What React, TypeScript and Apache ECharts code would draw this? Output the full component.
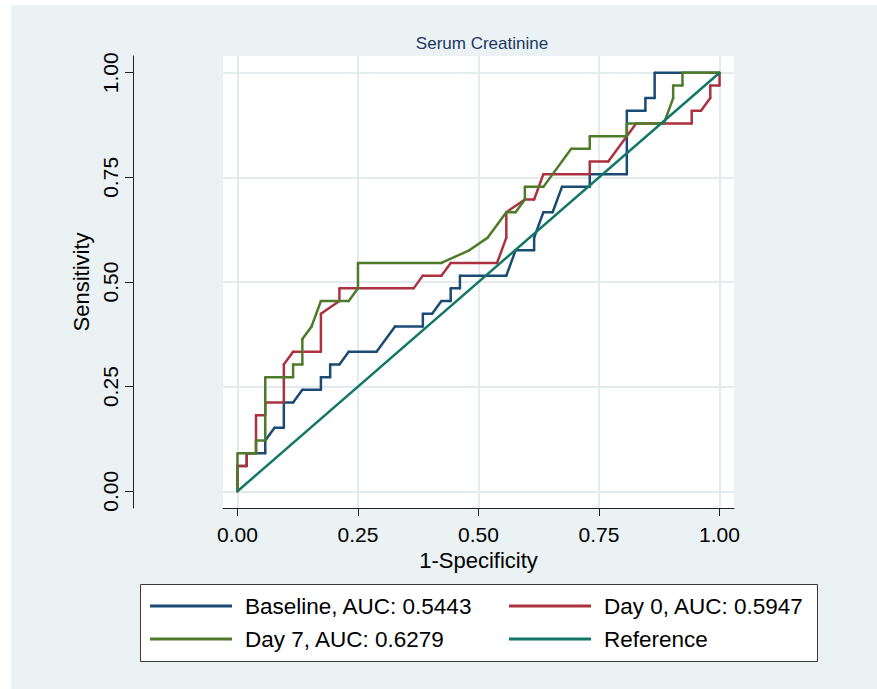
import React, { useEffect, useRef } from "react";
import * as echarts from "echarts";

const FONT = '"Liberation Sans", Arial, Helvetica, sans-serif';

const titleText = "Serum Creatinine";
const xAxisTitle = "1-Specificity";
const yAxisTitle = "Sensitivity";
const tickValues = [0, 0.25, 0.5, 0.75, 1];

const seriesNames = [
  "Baseline, AUC: 0.5443",
  "Day 0, AUC: 0.5947",
  "Day 7, AUC: 0.6279",
  "Reference",
];
const seriesColors = ["#1b4a74", "#ad313e", "#4d7b29", "#127769"];

const baselineFpr = [
  0, 0, 0.0192, 0.0192, 0.0577, 0.0577, 0.0769, 0.0962, 0.0962, 0.1154, 0.1346,
  0.1731, 0.1731, 0.1923, 0.1923, 0.2115, 0.2308, 0.2885, 0.3269, 0.3846, 0.3846,
  0.4038, 0.4231, 0.4423, 0.4423, 0.4615, 0.4615, 0.5577, 0.5769, 0.6154, 0.6154,
  0.6346, 0.6538, 0.6731, 0.7308, 0.7308, 0.8077, 0.8077, 0.8462, 0.8462, 0.8654,
  0.8654, 1,
];
const baselineSens = [
  0, 0.0606, 0.0606, 0.0909, 0.0909, 0.1212, 0.1515, 0.1515, 0.2121, 0.2121, 0.2424,
  0.2424, 0.2727, 0.2727, 0.303, 0.303, 0.3333, 0.3333, 0.3939, 0.3939, 0.4242,
  0.4242, 0.4545, 0.4545, 0.4848, 0.4848, 0.5152, 0.5152, 0.5758, 0.5758, 0.6061,
  0.6667, 0.6667, 0.7273, 0.7273, 0.7576, 0.7576, 0.9091, 0.9091, 0.9394, 0.9394,
  1, 1,
];

const day0Fpr = [
  0, 0, 0.0192, 0.0192, 0.0385, 0.0385, 0.0577, 0.0577, 0.0962, 0.0962, 0.1154,
  0.1731, 0.1731, 0.2115, 0.2115, 0.3654, 0.3846, 0.4231, 0.4423, 0.5385, 0.5577,
  0.5577, 0.5962, 0.6154, 0.6346, 0.7308, 0.7308, 0.7692, 0.8269, 0.9423, 0.9423,
  0.9615, 0.9808, 0.9808, 1, 1,
];
const day0Sens = [
  0, 0.0606, 0.0606, 0.0909, 0.0909, 0.1818, 0.1818, 0.2121, 0.2121, 0.303, 0.3333,
  0.3333, 0.4242, 0.4545, 0.4848, 0.4848, 0.5152, 0.5152, 0.5455, 0.5455, 0.6061,
  0.6667, 0.697, 0.697, 0.7576, 0.7576, 0.7879, 0.7879, 0.8788, 0.8788, 0.9091,
  0.9091, 0.9394, 0.9697, 0.9697, 1,
];

const day7Fpr = [
  0, 0, 0.0385, 0.0385, 0.0577, 0.0577, 0.1154, 0.1154, 0.1346, 0.1346, 0.1538,
  0.1731, 0.2308, 0.25, 0.25, 0.4231, 0.4808, 0.5192, 0.5577, 0.5769, 0.5962,
  0.5962, 0.6346, 0.6923, 0.7308, 0.7308, 0.8077, 0.8077, 0.8846, 0.9038, 0.9038,
  0.9231, 0.9231, 1,
];
const day7Sens = [
  0, 0.0909, 0.0909, 0.1212, 0.1212, 0.2727, 0.2727, 0.303, 0.303, 0.3636, 0.3939,
  0.4545, 0.4545, 0.4848, 0.5455, 0.5455, 0.5758, 0.6061, 0.6667, 0.6667, 0.697,
  0.7273, 0.7273, 0.8182, 0.8182, 0.8485, 0.8485, 0.8788, 0.8788, 0.9394, 0.9697,
  0.9697, 1, 1,
];

const referenceFpr = [0, 1];
const referenceSens = [0, 1];

const zip = (xs: number[], ys: number[]) => xs.map((x, i) => [x, ys[i]]);

export default function App() {
  const ref = useRef<HTMLDivElement>(null);

  useEffect(() => {
    if (!ref.current) return;
    const chart = echarts.init(ref.current, null, {
      renderer: "svg",
      width: 877,
      height: 689,
    });

    const curves = [
      zip(baselineFpr, baselineSens),
      zip(day0Fpr, day0Sens),
      zip(day7Fpr, day7Sens),
      zip(referenceFpr, referenceSens),
    ];

    const lineSeries = curves.map((data, i) => ({
      name: seriesNames[i],
      type: "line",
      data,
      z: 3 + i,
      showSymbol: i < 3,
      symbol: "circle",
      symbolSize: 2.5,
      itemStyle: { color: seriesColors[i] },
      lineStyle: { color: seriesColors[i], width: 2.5 },
      emphasis: { disabled: true },
      silent: true,
    }));

    const legendCommon = {
      orient: "vertical",
      top: 593,
      itemWidth: 82,
      itemHeight: 3,
      itemGap: 7,
      padding: 0,
      icon: "rect",
      selectedMode: false,
      textStyle: {
        fontFamily: FONT,
        fontSize: 22.5,
        color: "#000",
        lineHeight: 26,
        padding: [0, 0, 0, 8],
      },
    };

    chart.setOption({
      animation: false,
      backgroundColor: "transparent",
      textStyle: { fontFamily: FONT },
      grid: {
        left: 223,
        right: 143,
        top: 56,
        bottom: 181,
        show: true,
        backgroundColor: "#ffffff",
        borderWidth: 0,
        containLabel: false,
      },
      xAxis: {
        type: "value",
        min: -0.03,
        max: 1.03,
        name: xAxisTitle,
        nameLocation: "middle",
        nameGap: 38,
        nameTextStyle: { fontFamily: FONT, fontSize: 22, color: "#000" },
        axisLine: { show: true, onZero: false, lineStyle: { color: "#222", width: 1 } },
        axisTick: {
          show: true,
          length: 8,
          customValues: tickValues,
          lineStyle: { color: "#222", width: 1 },
        },
        axisLabel: {
          show: true,
          customValues: tickValues,
          margin: 16,
          fontFamily: FONT,
          fontSize: 21,
          color: "#000",
          formatter: (v: number) => v.toFixed(2),
        },
        splitLine: { show: true, lineStyle: { color: "#e3ebee", width: 2 } },
      },
      yAxis: {
        type: "value",
        min: -0.04,
        max: 1.04,
        offset: 90,
        name: yAxisTitle,
        nameLocation: "middle",
        nameRotate: 90,
        nameGap: 41,
        nameTextStyle: { fontFamily: FONT, fontSize: 22, color: "#000" },
        axisLine: { show: true, onZero: false, lineStyle: { color: "#222", width: 1 } },
        axisTick: {
          show: true,
          length: 8,
          customValues: tickValues,
          lineStyle: { color: "#222", width: 1 },
        },
        axisLabel: {
          show: true,
          customValues: tickValues,
          rotate: 90,
          margin: 12,
          fontFamily: FONT,
          fontSize: 21,
          color: "#000",
          formatter: (v: number) => v.toFixed(2),
        },
        splitLine: { show: true, lineStyle: { color: "#e3ebee", width: 2 } },
      },
      legend: [
        { ...legendCommon, left: 150, data: [seriesNames[0], seriesNames[2]] },
        { ...legendCommon, left: 509, data: [seriesNames[1], seriesNames[3]] },
      ],
      graphic: [
        {
          type: "rect",
          z: 1,
          shape: { x: 140.5, y: 584.5, width: 677, height: 77 },
          style: { fill: "#ffffff", stroke: "#3a3a3a", lineWidth: 1 },
          silent: true,
        },
        {
          type: "text",
          z: 5,
          x: 482,
          y: 43,
          style: {
            text: titleText,
            fontFamily: FONT,
            fontSize: 17,
            fill: "#1c3763",
            textAlign: "center",
            textVerticalAlign: "middle",
          },
          silent: true,
        },
      ],
      series: lineSeries,
    });

    return () => {
      chart.dispose();
    };
  }, []);

  return (
    <div
      style={{
        position: "absolute",
        left: 0,
        top: 0,
        width: 877,
        height: 689,
        background: "#ffffff",
        overflow: "hidden",
      }}
    >
      <div
        style={{
          position: "absolute",
          left: 11,
          top: 5,
          right: 0,
          bottom: 0,
          background: "#eaf2f3",
        }}
      />
      <div
        ref={ref}
        style={{ position: "absolute", left: 0, top: 0, width: 877, height: 689 }}
      />
    </div>
  );
}
